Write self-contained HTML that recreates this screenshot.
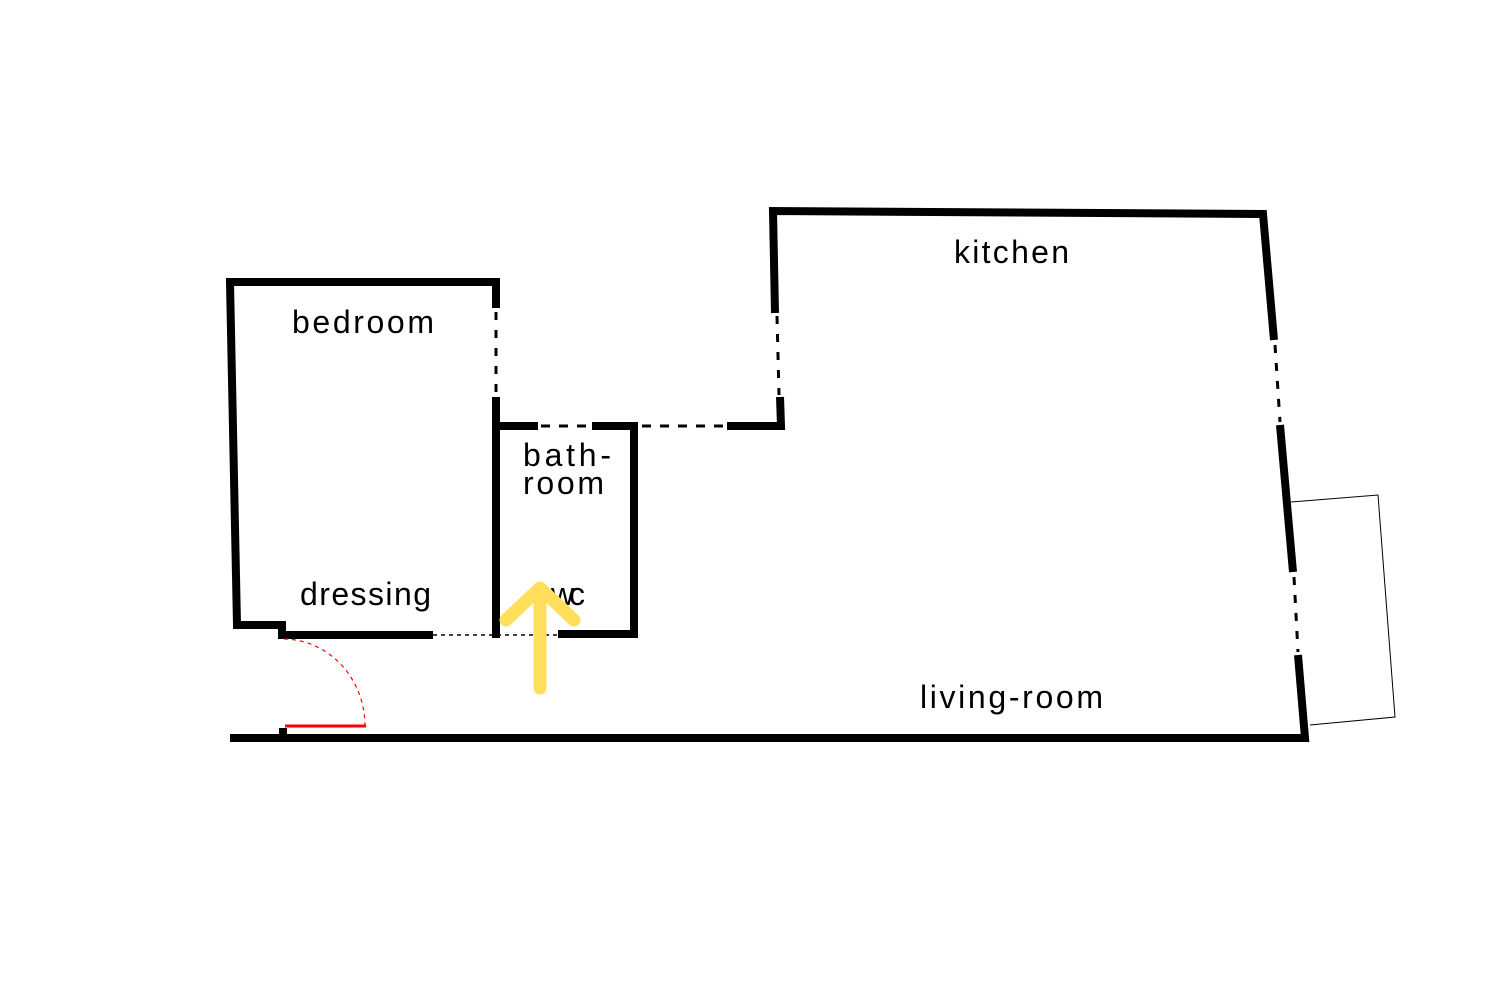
<!DOCTYPE html>
<html><head><style>html,body{margin:0;padding:0;background:#fff;}svg{display:block}text{font-family:"Liberation Sans",sans-serif;font-size:32px;fill:#000}</style></head>
<body>
<svg width="1500" height="1000" viewBox="0 0 1500 1000" xmlns="http://www.w3.org/2000/svg">
<g fill="none" stroke="#000" stroke-width="8" stroke-linejoin="miter">
<path d="M496,308 L496,282 L230,282 L237,625 L282,625 L282,635 L433,635"/>
<path d="M496,397 L496,638"/>
<path d="M496,426 L538,426"/>
<path d="M592,426 L634,426 L634,634 L558,634"/>
<path d="M727,426 L781,426 L780,397"/>
<path d="M775,313 L773,211 L1263,214 L1274,340"/>
<path d="M1280,425 L1293,572"/>
<path d="M1298,655 L1305,738 L230,738"/>
<path d="M283,738 L283,728"/>
</g>
<g fill="none" stroke="#000" stroke-width="3" stroke-dasharray="8,10">
<path d="M496,312 L496,395"/>
<path d="M777,316 L779,395"/>
<path d="M1275,345 L1280,422"/>
<path d="M1294,577 L1298,652"/>
</g>
<g fill="none" stroke="#000" stroke-width="3" stroke-dasharray="9,9">
<path d="M541,426 L590,426"/>
<path d="M642,426 L726,426"/>
</g>
<path d="M433,635 L558,635" stroke="#000" stroke-width="1.5" stroke-dasharray="4,4" fill="none"/>
<path d="M1291,502 L1378,495 L1395,717 L1310,725" stroke="#000" stroke-width="1" fill="none"/>
<path d="M285,726 L366,726" stroke="#f00" stroke-width="3"/>
<path d="M284,639 A82,87 0 0 1 365,726" stroke="#f00" stroke-width="1.2" stroke-dasharray="4,4" fill="none"/>
<text x="954" y="263" textLength="115">kitchen</text>
<text x="292" y="333" textLength="142">bedroom</text>
<text x="523" y="466" textLength="88">bath-</text>
<text x="523" y="494" textLength="81">room</text>
<text x="300" y="605" textLength="131">dressing</text>
<text x="551" y="605" textLength="34">wc</text>
<text x="920" y="708" textLength="183">living-room</text>
<g stroke="#ffdf5c" stroke-width="13" stroke-linecap="round" stroke-linejoin="round" fill="none">
<path d="M540,688 L540,592"/>
<path d="M506,620 L540,588 L574,620"/>
</g>
</svg>
</body></html>
